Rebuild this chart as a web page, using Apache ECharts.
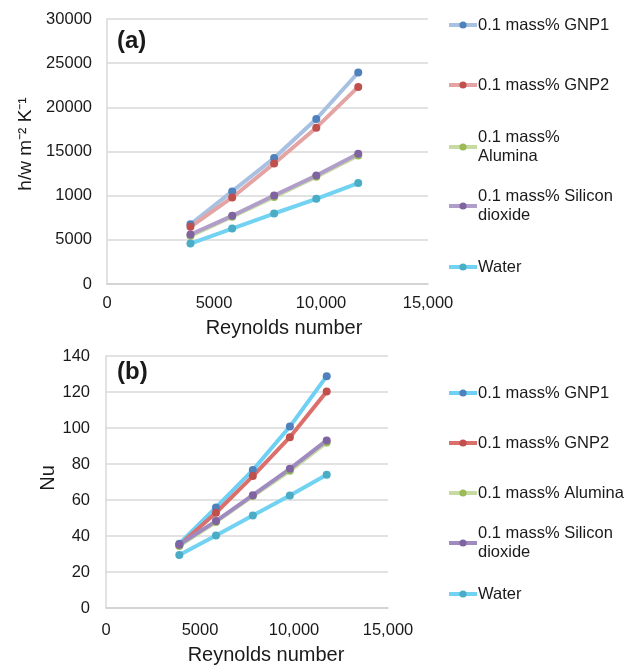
<!DOCTYPE html>
<html>
<head>
<meta charset="utf-8">
<script src="https://cdn.jsdelivr.net/npm/echarts@6/dist/echarts.min.js"></script>
<style>
html,body{margin:0;padding:0;background:#fff;}
#chart{width:639px;height:667px;}
</style>
</head>
<body>
<div id="chart"></div>
<script>
// ---- data ----
const seriesNames = ['0.1 mass% GNP1', '0.1 mass% GNP2', '0.1 mass% Alumina', '0.1 mass% Silicon dioxide', 'Water'];
const legendTextTop = ['0.1 mass% GNP1', '0.1 mass% GNP2', '0.1 mass%\nAlumina', '0.1 mass% Silicon\ndioxide', 'Water'];
const legendTextBottom = ['0.1 mass% GNP1', '0.1 mass% GNP2', '0.1 mass% Alumina', '0.1 mass% Silicon\ndioxide', 'Water'];
const reynolds = [3900, 5850, 7810, 9780, 11740];

const gnp1H = [6770, 10480, 14260, 18680, 23940];
const gnp2H = [6470, 9800, 13650, 17700, 22310];
const aluminaH = [5450, 7620, 9850, 12150, 14550];
const sio2H = [5600, 7720, 10020, 12290, 14750];
const waterH = [4580, 6280, 7980, 9640, 11420];

const gnp1Nu = [35.7, 55.9, 76.6, 100.8, 128.8];
const gnp2Nu = [34.8, 52.9, 73.3, 94.9, 120.3];
const aluminaNu = [34.5, 47.8, 62.2, 76.2, 92.0];
const sio2Nu = [35.2, 48.3, 62.7, 77.3, 93.1];
const waterNu = [29.4, 40.3, 51.4, 62.5, 74.0];

const xTickLabels = ['0', '5000', '10,000', '15,000'];
const yTickLabelsTop = ['0', '5000', '1000', '15000', '20000', '25000', '30000'];
const yTickLabelsBottom = ['0', '20', '40', '60', '80', '100', '120', '140'];

// ---- styles ----
const markerColors = ['#4f81bd', '#c0504d', '#9bbb59', '#8064a2', '#4bacc6'];
const lineColorsTop = ['#a8c1e2', '#e3a4a3', '#c6daa2', '#b09dc9', '#72d2f2'];
const lineColorsBottom = ['#6fd0f5', '#db6f6b', '#c6daa2', '#9f8bc0', '#72d2f2'];

const topData = [gnp1H, gnp2H, aluminaH, sio2H, waterH];
const bottomData = [gnp1Nu, gnp2Nu, aluminaNu, sio2Nu, waterNu];

const pair = (ys) => ys.map((y, i) => [reynolds[i], y]);

const series = [];
seriesNames.forEach((n, i) => {
  series.push({
    name: n, type: 'line', xAxisIndex: 0, yAxisIndex: 0,
    data: pair(topData[i]), symbol: 'circle', symbolSize: 8,
    lineStyle: {color: lineColorsTop[i], width: 4},
    itemStyle: {color: markerColors[i]}, emphasis: {disabled: true}
  });
});
seriesNames.forEach((n, i) => {
  series.push({
    name: n, type: 'line', xAxisIndex: 1, yAxisIndex: 1,
    data: pair(bottomData[i]), symbol: 'circle', symbolSize: 8,
    lineStyle: {color: lineColorsBottom[i], width: 4},
    itemStyle: {color: markerColors[i]}, emphasis: {disabled: true}
  });
});

const LH = 19;
const FS = 16.5;
const topCenters = [25, 85, 147, 206, 267];
const bottomCenters = [393, 443, 493, 543, 594];

function makeLegend(i, center, texts, lineColors) {
  const twoLine = texts[i].indexOf('\n') >= 0;
  return {
    left: 447,
    top: twoLine ? center - 1.5 * LH : center - LH / 2,
    padding: 0,
    orient: 'vertical',
    itemWidth: 28,
    itemHeight: 9,
    selectedMode: false,
    formatter: () => texts[i],
    textStyle: {
      fontSize: FS, lineHeight: LH, color: '#1a1a1a',
      fontFamily: 'Liberation Sans, Arial, sans-serif',
      padding: twoLine ? [LH, 0, 0, -4] : [0, 0, 0, -4]
    },
    data: [{
      name: seriesNames[i],
      lineStyle: {color: lineColors[i], width: 4},
      itemStyle: {color: markerColors[i]}
    }]
  };
}

const legends = [];
for (let i = 0; i < 5; i++) legends.push(makeLegend(i, topCenters[i], legendTextTop, lineColorsTop));
for (let i = 0; i < 5; i++) legends.push(makeLegend(i, bottomCenters[i], legendTextBottom, lineColorsBottom));

const font = 'Liberation Sans, Arial, sans-serif';
const gridColor = '#d9d9d9';

function xAxis(gridIndex, nameGap, labelMargin, padLeft) {
  return {
    type: 'value', gridIndex, min: 0, max: 15000, interval: 5000,
    name: 'Reynolds number', nameLocation: 'middle', nameGap,
    nameTextStyle: {fontSize: 20, color: '#1a1a1a', fontFamily: font, padding: [0, 0, 0, padLeft]},
    axisLine: {show: true, lineStyle: {color: '#cfcfcf', width: 1.5}},
    axisTick: {show: false},
    splitLine: {show: false},
    axisLabel: {
      fontSize: FS, color: '#1a1a1a', fontFamily: font, margin: labelMargin,
      formatter: (v) => xTickLabels[Math.round(v / 5000)]
    }
  };
}

const option = {
  animation: false,
  backgroundColor: '#ffffff',
  title: [
    {text: '(a)', left: 117, top: 29, padding: 0,
     textStyle: {fontSize: 24, fontWeight: 'bold', color: '#1a1a1a', fontFamily: font}},
    {text: '(b)', left: 117, top: 360, padding: 0,
     textStyle: {fontSize: 24, fontWeight: 'bold', color: '#1a1a1a', fontFamily: font}}
  ],
  legend: legends,
  grid: [
    {left: 107, top: 19, width: 321, height: 265, containLabel: false},
    {left: 106, top: 356, width: 282, height: 252, containLabel: false}
  ],
  xAxis: [
    xAxis(0, 34, 11, 33),
    xAxis(1, 37, 14, 38)
  ],
  yAxis: [
    {
      type: 'value', gridIndex: 0, min: 0, max: 30000, interval: 5000,
      name: 'h/w m⁻² K⁻¹', nameLocation: 'middle', nameGap: 72,
      nameTextStyle: {fontSize: 19, color: '#1a1a1a', fontFamily: font, padding: [0, 0, 0, 15]},
      axisLine: {show: true, lineStyle: {color: gridColor, width: 1.5}},
      axisTick: {show: false},
      splitLine: {show: true, lineStyle: {color: gridColor, width: 1.5}},
      axisLabel: {fontSize: FS, color: '#1a1a1a', fontFamily: font, margin: 15,
        formatter: (v) => yTickLabelsTop[Math.round(v / 5000)]}
    },
    {
      type: 'value', gridIndex: 1, min: 0, max: 140, interval: 20,
      name: 'Nu', nameLocation: 'middle', nameGap: 47,
      nameTextStyle: {fontSize: 20, color: '#1a1a1a', fontFamily: font, padding: [0, 0, 0, 8]},
      axisLine: {show: true, lineStyle: {color: gridColor, width: 1.5}},
      axisTick: {show: false},
      splitLine: {show: true, lineStyle: {color: gridColor, width: 1.5}},
      axisLabel: {fontSize: FS, color: '#1a1a1a', fontFamily: font, margin: 16,
        formatter: (v) => yTickLabelsBottom[Math.round(v / 20)]}
    }
  ],
  series
};

const chart = echarts.init(document.getElementById('chart'), null, {renderer: 'canvas'});
chart.setOption(option);
</script>
</body>
</html>
